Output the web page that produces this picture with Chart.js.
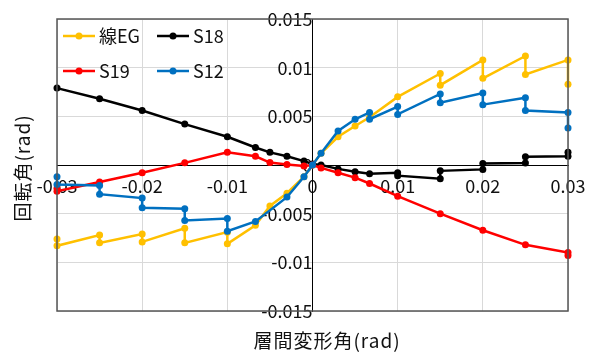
<!DOCTYPE html>
<html>
<head>
<meta charset="utf-8">
<script src="https://cdn.jsdelivr.net/npm/chart.js@4"></script>
<style>
  body { margin: 0; background: #fff; }
</style>
</head>
<body>
<canvas id="myChart" width="600" height="352"></canvas>
<script>
const grafica = document.getElementById("myChart");

const xTicks = [-0.03, -0.02, -0.01, 0, 0.01, 0.02, 0.03];
const yTicks = [-0.015, -0.01, -0.005, 0, 0.005, 0.01, 0.015];

const seriesNames = ["線EG", "S18", "S19", "S12"];
const seriesColors = ["#FFC000", "#000000", "#FF0000", "#0070C0"];

// 線EG
const egX = [-0.03, -0.03, -0.025, -0.025, -0.02, -0.02, -0.015, -0.015, -0.01, -0.01, -0.0067, -0.005, -0.003, -0.001, 0,
  0.001, 0.003, 0.005, 0.0067, 0.01, 0.015, 0.015, 0.02, 0.02, 0.025, 0.025, 0.03, 0.03];
const egY = [-0.0076, -0.0083, -0.0072, -0.008, -0.0071, -0.0079, -0.0065, -0.008, -0.0069, -0.0081, -0.0062, -0.0042, -0.0029, -0.0012, 0,
  0.0012, 0.0029, 0.004, 0.0049, 0.007, 0.0094, 0.0082, 0.0108, 0.0089, 0.0112, 0.0093, 0.0108, 0.0083];

// S18
const s18X = [-0.03, -0.025, -0.02, -0.015, -0.01, -0.0067, -0.005, -0.003, -0.001, 0,
  0.001, 0.003, 0.005, 0.0067, 0.01, 0.01, 0.015, 0.015, 0.02, 0.02, 0.025, 0.025, 0.03, 0.03];
const s18Y = [0.0079, 0.0068, 0.0056, 0.0042, 0.0029, 0.0018, 0.0013, 0.0009, 0.0004, 0.0001,
  0, -0.0004, -0.0007, -0.0009, -0.0008, -0.0011, -0.0014, -0.0006, -0.00045, 0.00015, 0.0002, 0.00085, 0.0009, 0.0013];

// S19
const s19X = [-0.03, -0.03, -0.025, -0.02, -0.015, -0.01, -0.0067, -0.005, -0.003, -0.001, 0,
  0.001, 0.003, 0.005, 0.0067, 0.01, 0.015, 0.02, 0.025, 0.03, 0.03];
const s19Y = [-0.0024, -0.0027, -0.00175, -0.0008, 0.00022, 0.0013, 0.0009, 0.00025, 0.00005, -0.0001, 0,
  -0.0003, -0.0008, -0.0013, -0.0019, -0.0032, -0.005, -0.0067, -0.0082, -0.009, -0.0093];

// S12
const s12X = [-0.03, -0.03, -0.025, -0.025, -0.02, -0.02, -0.015, -0.015, -0.01, -0.01, -0.0067, -0.003, -0.001, 0,
  0.001, 0.003, 0.005, 0.0067, 0.0067, 0.01, 0.01, 0.015, 0.015, 0.02, 0.02, 0.025, 0.025, 0.03, 0.03];
const s12Y = [-0.0012, -0.002, -0.0021, -0.003, -0.0034, -0.0044, -0.0045, -0.0057, -0.0055, -0.0068, -0.0058, -0.0033, -0.0012, 0,
  0.0012, 0.0035, 0.0047, 0.0054, 0.0047, 0.006, 0.0052, 0.0073, 0.0064, 0.0074, 0.0062, 0.0069, 0.0056, 0.0054, 0.0038];

const FONT = "'Noto Sans CJK JP', 'Noto Sans', sans-serif";

const toPoints = (xs, ys) => xs.map((x, i) => ({ x: x, y: ys[i] }));

const makeSet = (i, xs, ys) => ({
  label: seriesNames[i],
  data: toPoints(xs, ys),
  showLine: true,
  borderColor: seriesColors[i],
  backgroundColor: seriesColors[i],
  borderWidth: 2.5,
  pointRadius: 3.5,
  pointBorderWidth: 0,
  pointHoverRadius: 3.5,
  clip: false,
  order: 4 - i, // excel draws later series on top
});

// frame, axis titles and legend inside the plot
const extras = {
  id: "extras",
  afterDraw(chart) {
    const ctx = chart.ctx;
    const a = chart.chartArea;
    ctx.save();
    ctx.strokeStyle = "#555";
    ctx.lineWidth = 1.5;
    ctx.strokeRect(a.left, a.top, a.right - a.left, a.bottom - a.top);

    ctx.fillStyle = "#111";
    ctx.font = "19px " + FONT;
    ctx.letterSpacing = "1px";
    ctx.textAlign = "center";
    ctx.textBaseline = "middle";
    ctx.fillText("層間変形角(rad)", 327, 341);
    ctx.translate(23, 168);
    ctx.rotate(-Math.PI / 2);
    ctx.fillText("回転角(rad)", 0, 0);
    ctx.restore();

    ctx.save();
    ctx.font = "18px " + FONT;
    ctx.textBaseline = "middle";
    ctx.textAlign = "left";
    chart.data.datasets.forEach((ds, i) => {
      const lx = 63 + (i % 2) * 94;
      const ly = 36 + Math.floor(i / 2) * 35;
      ctx.strokeStyle = ds.borderColor;
      ctx.fillStyle = ds.borderColor;
      ctx.lineWidth = 2.5;
      ctx.beginPath();
      ctx.moveTo(lx, ly);
      ctx.lineTo(lx + 32, ly);
      ctx.stroke();
      ctx.beginPath();
      ctx.arc(lx + 16, ly, 3.5, 0, Math.PI * 2);
      ctx.fill();
      ctx.fillStyle = "#111";
      ctx.fillText(ds.label, lx + 36, ly);
    });
    ctx.restore();
  },
};

const setTicks = (vals) => (scale) => {
  scale.ticks = vals.map((v) => ({ value: v }));
};

const config = {
  type: "scatter",
  data: {
    datasets: [
      makeSet(0, egX, egY),
      makeSet(1, s18X, s18Y),
      makeSet(2, s19X, s19Y),
      makeSet(3, s12X, s12Y),
    ],
  },
  options: {
    responsive: false,
    animation: false,
    layout: { padding: { left: 57, right: 32, top: 19, bottom: 41 } },
    plugins: { legend: { display: false }, tooltip: { enabled: false } },
    scales: {
      x: {
        type: "linear",
        min: -0.03,
        max: 0.03,
        position: { y: 0 },
        afterBuildTicks: setTicks(xTicks),
        grid: { color: "#d9d9d9", lineWidth: 1, drawTicks: true, tickLength: 10, tickColor: "rgba(0,0,0,0)" },
        border: { color: "#000", width: 1 },
        ticks: {
          padding: 0,
          maxRotation: 0,
          autoSkip: false,
          color: "#111",
          font: { size: 18, family: FONT },
          callback: (v) => String(v),
        },
      },
      y: {
        type: "linear",
        min: -0.015,
        max: 0.015,
        position: { x: 0 },
        afterBuildTicks: setTicks(yTicks),
        // gap between labels and the zero line comes from a hidden tick mark
        grid: { color: "#d9d9d9", lineWidth: 1, drawTicks: true, tickLength: 16, tickColor: "rgba(0,0,0,0)" },
        border: { color: "#000", width: 1 },
        ticks: {
          padding: 0,
          autoSkip: false,
          color: "#111",
          font: { size: 18, family: FONT },
          callback: (v) => String(v),
        },
      },
    },
  },
  plugins: [extras],
};

const mychart = new Chart(grafica, config);
</script>
</body>
</html>
